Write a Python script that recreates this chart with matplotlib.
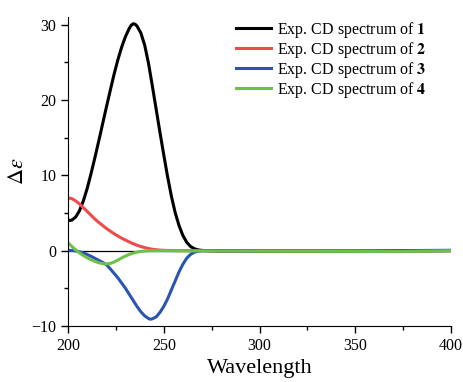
import numpy as np
from matplotlib import pyplot as plt
import matplotlib.ticker as plticker

plt.rcParams['font.family'] = ['Liberation Serif', 'DejaVu Serif']
plt.rcParams['mathtext.fontset'] = 'stix'

# valores (nm, delta epsilon)
wl_1 = [200, 201, 202, 204, 206, 208, 210, 212, 214, 216, 218, 220, 222, 224, 226, 228, 230,
        232, 233, 234, 235, 236, 238, 240, 242, 244, 246, 248, 250, 252, 254, 256, 258, 260, 262, 264,
        266, 268, 270, 273, 280, 300, 330, 360, 400]
de_1 = [4.1, 4.0, 4.05, 4.46, 5.3, 6.6, 8.25, 10.2, 12.3, 14.5, 16.75, 19.0, 21.2, 23.35, 25.3, 27.0, 28.4,
        29.5, 29.9, 30.1, 30.05, 29.8, 28.9, 27.3, 24.9, 21.9, 18.8, 15.7, 12.7, 9.8, 7.2, 5.0, 3.3, 2.0, 1.1, 0.55,
        0.25, 0.1, 0.03, 0.0, -0.05, -0.08, -0.08, -0.08, 0.0]

wl_2 = [200, 202, 204, 206, 208, 210, 212, 214, 216, 218, 220, 222, 224, 226, 228, 230, 232, 234,
        236, 238, 240, 242, 244, 246, 248, 250, 254, 260, 300, 350, 400]
de_2 = [7.0, 6.9, 6.6, 6.2, 5.7, 5.2, 4.7, 4.2, 3.75, 3.35, 2.95, 2.6, 2.25, 1.95, 1.65, 1.4, 1.15, 0.92,
        0.72, 0.55, 0.4, 0.28, 0.19, 0.12, 0.07, 0.04, 0.01, 0.0, -0.05, -0.05, 0.0]

wl_3 = [200, 203, 206, 209, 212, 215, 218, 220, 222, 224, 226, 228, 230, 232, 234, 236, 238, 240,
        242, 243, 244, 246, 248, 250, 252, 254, 256, 258, 260, 262, 264, 266, 268, 270, 273,
        300, 350, 400]
de_3 = [0.05, 0.0, -0.15, -0.4, -0.75, -1.15, -1.55, -1.85, -2.4, -3.0, -3.6, -4.3, -5.0, -5.8, -6.6, -7.4, -8.1, -8.65,
        -9.0, -9.1, -9.05, -8.8, -8.2, -7.4, -6.4, -5.2, -4.0, -2.8, -1.8, -1.0, -0.5, -0.2, -0.06, -0.01, 0.0,
        -0.05, -0.05, 0.05]

wl_4 = [200, 202, 204, 206, 208, 210, 212, 214, 216, 218, 220, 222, 224, 226, 228, 230, 232, 234,
        236, 238, 240, 243, 248, 300, 350, 375, 400]
de_4 = [1.05, 0.55, 0.1, -0.3, -0.65, -0.95, -1.2, -1.42, -1.6, -1.72, -1.78, -1.7, -1.52, -1.25, -0.97, -0.72, -0.5, -0.33,
        -0.2, -0.11, -0.05, -0.01, 0.0, -0.08, -0.1, -0.12, 0.0]

series = [(wl_1, de_1, '#000000', '1'),
          (wl_2, de_2, '#ee4b4b', '2'),
          (wl_3, de_3, '#2a55b3', '3'),
          (wl_4, de_4, '#6dc04a', '4')]

fig = plt.figure(figsize=(4.64, 3.82), dpi=100)
ax = fig.add_axes([0.1466, 0.1466, 0.8254, 0.8089])

ax.axhline(0, color='black', lw=0.9, zorder=1)
for wl, de, cor, n in series:
    ax.plot(wl, de, color=cor, lw=2.2, label=f'Exp. CD spectrum of $\\mathbf{{{n}}}$', zorder=2)

ax.set_xlim(200, 400)
ax.set_ylim(-10, 31)
ax.xaxis.set_major_locator(plticker.MultipleLocator(50))
ax.xaxis.set_minor_locator(plticker.MultipleLocator(25))
ax.yaxis.set_major_locator(plticker.MultipleLocator(10))
ax.yaxis.set_minor_locator(plticker.MultipleLocator(5))
ax.tick_params(which='major', direction='out', length=5, width=1, labelsize=11.5)
ax.tick_params(which='minor', direction='out', length=3, width=1)
ax.spines['top'].set_visible(False)
ax.spines['right'].set_visible(False)

ax.set_xlabel('Wavelength', fontsize=16, labelpad=4)
ax.set_ylabel(r'$\Delta\varepsilon$', fontsize=16, labelpad=2)

ax.legend(loc='upper right', frameon=False, fontsize=11.5, handlelength=2.2,
          handletextpad=0.35, labelspacing=0.0, borderaxespad=0, borderpad=0,
          bbox_to_anchor=(0.935, 0.99))

plt.savefig('out.png', dpi=100)
